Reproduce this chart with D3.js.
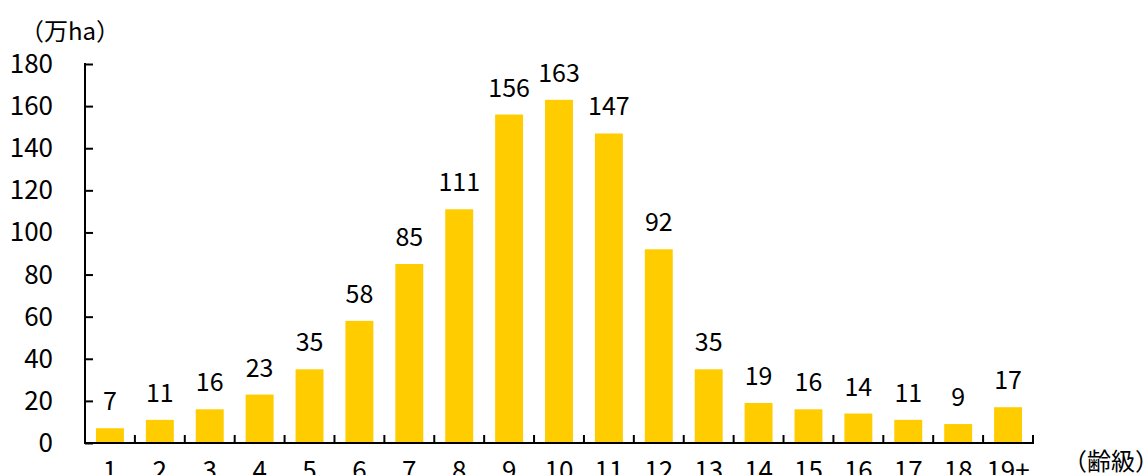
<!DOCTYPE html>
<html><head><meta charset="utf-8">
<script src="https://cdn.jsdelivr.net/npm/d3@7"></script>
<style>
html,body{margin:0;padding:0;background:#fff;}
svg text{font-family:"Noto Sans CJK JP","Noto Sans",sans-serif;fill:#000;}
</style></head>
<body>
<svg id="chart" width="1145" height="475"></svg>
<script>
const categories = ["1","2","3","4","5","6","7","8","9","10","11","12","13","14","15","16","17","18","19+"];
const values = [7,11,16,23,35,58,85,111,156,163,147,92,35,19,16,14,11,9,17];
const yTicks = [0,20,40,60,80,100,120,140,160,180];
const yUnit = "（万ha）";
const xUnit = "（齢級）";

(function(){
const svg = d3.select("#chart");
const mLeft = 85, mRight = 1033, mTop = 64, mBottom = 443;
const x = d3.scaleBand().domain(categories).range([mLeft, mRight]).paddingInner(0.44).paddingOuter(0.22);
const y = d3.scaleLinear().domain([0,180]).range([mBottom, mTop]);
const step = (mRight-mLeft)/categories.length;

svg.selectAll("rect.bar").data(values).enter().append("rect")
  .attr("x",(d,i)=>x(categories[i])).attr("width",x.bandwidth())
  .attr("y",d=>y(d)).attr("height",d=>mBottom-y(d)).attr("fill","#FFCC00");

svg.selectAll("text.val").data(values).enter().append("text")
  .attr("x",(d,i)=>x(categories[i])+x.bandwidth()/2).attr("y",d=>y(d)-18)
  .attr("text-anchor","middle").attr("font-size",25).text(d=>d);

// y axis
const yAxis = d3.axisLeft(y).tickValues(yTicks).tickSize(-8).tickPadding(0).tickSizeOuter(0);
const ga = svg.append("g").attr("transform",`translate(${mLeft},0)`).call(yAxis);
ga.select(".domain").remove();
ga.selectAll("line").attr("stroke","#000").attr("stroke-width",2);
ga.selectAll("text").remove();
svg.append("line").attr("x1",mLeft).attr("x2",mLeft).attr("y1",mTop-1).attr("y2",mBottom+1).attr("stroke","#000").attr("stroke-width",2);
svg.selectAll("text.ytick").data(yTicks).enter().append("text")
  .attr("x",53).attr("y",d=>y(d)+9).attr("text-anchor","end").attr("font-size",26).text(d=>d);

// x axis
svg.append("line").attr("x1",mLeft-1).attr("x2",mRight+1).attr("y1",mBottom).attr("y2",mBottom).attr("stroke","#000").attr("stroke-width",2);
const bounds = d3.range(1, categories.length+1).map(i=>mLeft+i*step);
svg.selectAll("line.xt").data(bounds).enter().append("line")
  .attr("x1",d=>d).attr("x2",d=>d).attr("y1",mBottom).attr("y2",mBottom-8).attr("stroke","#000").attr("stroke-width",2);
svg.selectAll("text.cat").data(categories).enter().append("text")
  .attr("x",d=>x(d)+x.bandwidth()/2).attr("y",480).attr("text-anchor","middle").attr("font-size",26).text(d=>d);

svg.append("text").attr("x",20).attr("y",40).attr("font-size",24).text(yUnit);
svg.append("text").attr("x",1063).attr("y",470).attr("font-size",24).text(xUnit);
})();
</script>
</body></html>
